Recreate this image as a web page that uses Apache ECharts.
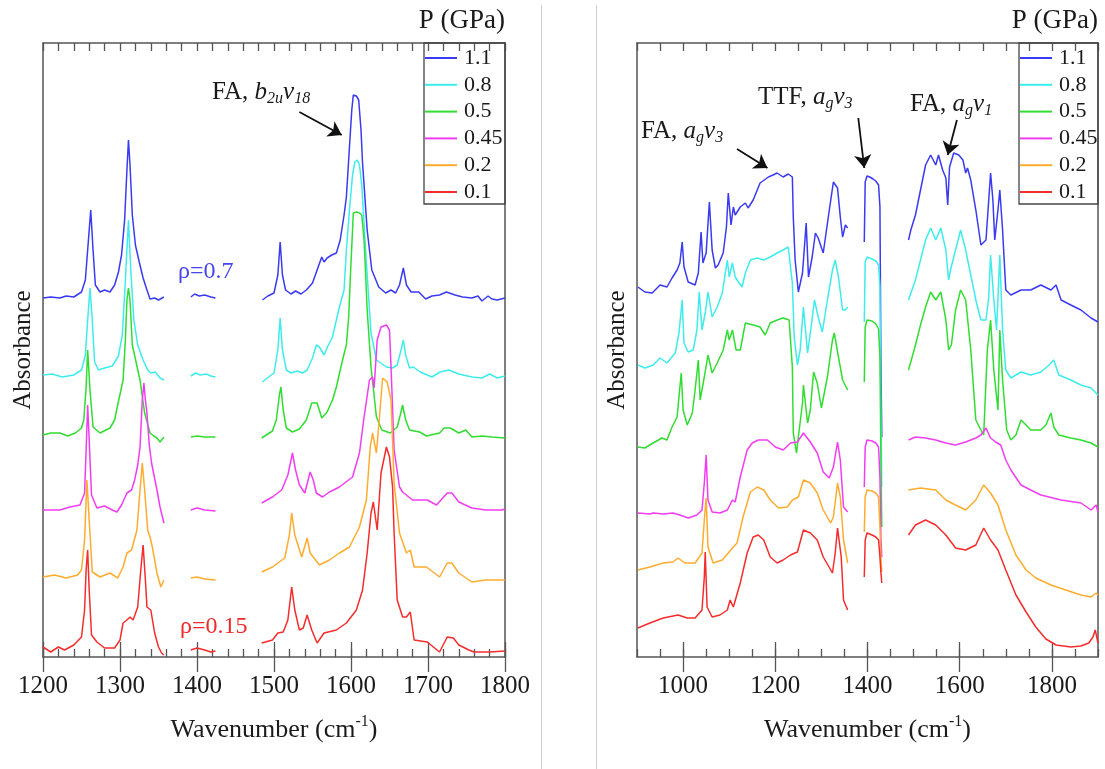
<!DOCTYPE html>
<html><head><meta charset="utf-8">
<script src="https://cdn.jsdelivr.net/npm/echarts@6/dist/echarts.min.js"></script>
<style>html,body{margin:0;padding:0;background:#fff}#c{width:1105px;height:769px}</style>
</head><body><div id="c"></div>
<script>
// ---------- DATA (wavenumber cm-1, absorbance in arbitrary offset units; null = gap) ----------
const pressures = ['1.1', '0.8', '0.5', '0.45', '0.2', '0.1'];
const colors = ['#3a3af2', '#3eecec', '#30dd30', '#f23cf2', '#ffac2e', '#f52c2c'];

const leftTicks = [1200, 1300, 1400, 1500, 1600, 1700, 1800];
const rightTicks = [1000, 1200, 1400, 1600, 1800];

// Left panel (1200-1800)
const left_1_1 = [[1200,35.9],[1210,36.0],[1222,35.9],[1230,36.1],[1240,36.0],[1250,36.5],[1255,37.7],[1259,41.7],[1262,44.7],[1265,40.7],[1268,37.2],[1274,36.5],[1280,36.7],[1287,36.5],[1293,37.2],[1298,38.5],[1302,40.2],[1306,43.7],[1309,48.7],[1311,51.7],[1313,49.2],[1316,44.2],[1320,41.2],[1325,39.5],[1330,37.9],[1335,36.7],[1339,35.8],[1345,35.9],[1350,35.7],[1357,36.0],null,
 [1392,36.0],[1397,36.3],[1403,36.1],[1410,36.2],[1418,36.0],[1424,35.9],null,
 [1485,35.7],[1492,36.1],[1500,36.4],[1505,38.2],[1508,41.5],[1511,38.2],[1515,36.7],[1522,36.3],[1528,36.6],[1535,36.3],[1542,36.7],[1550,37.4],[1556,38.7],[1562,40.0],[1565,39.5],[1569,39.9],[1575,40.2],[1581,40.4],[1586,41.7],[1591,44.2],[1594,46.0],[1598,51.0],[1601,54.7],[1603,56.2],[1607,56.1],[1610,55.7],[1613,52.7],[1615,49.4],[1621,42.7],[1627,38.7],[1636,37.0],[1645,36.4],[1652,36.7],[1658,36.4],[1663,37.2],[1668,38.9],[1672,37.2],[1678,36.5],[1688,36.5],[1697,35.8],[1705,36.1],[1715,36.2],[1724,36.5],[1735,36.2],[1745,36.0],[1757,35.9],[1765,36.1],[1770,35.6],[1778,36.1],[1783,35.8],[1790,35.7],[1800,35.9]];
const left_0_8 = [[1200,28.2],[1212,28.3],[1225,28.0],[1240,28.2],[1250,28.7],[1255,30.2],[1258,33.7],[1261,36.9],[1264,33.7],[1267,29.5],[1272,28.7],[1280,28.9],[1290,29.1],[1298,30.1],[1303,32.2],[1307,37.7],[1311,43.7],[1314,38.7],[1318,33.7],[1323,31.2],[1330,29.7],[1336,28.7],[1340,28.4],[1346,28.5],[1352,27.9],[1357,27.7],null,
 [1392,28.1],[1398,28.4],[1404,28.2],[1412,28.3],[1418,28.1],[1424,28.0],null,
 [1485,27.5],[1493,28.0],[1500,28.4],[1505,30.7],[1508,33.9],[1511,30.7],[1516,28.7],[1522,28.4],[1530,28.6],[1537,28.4],[1543,28.7],[1550,29.9],[1555,31.2],[1559,31.0],[1565,30.2],[1570,31.1],[1576,32.0],[1581,33.7],[1585,35.0],[1591,36.7],[1594,40.7],[1598,44.7],[1602,48.2],[1605,49.5],[1608,49.7],[1611,49.2],[1614,47.2],[1620,39.4],[1626,32.4],[1633,29.7],[1646,29.0],[1654,28.9],[1660,29.2],[1665,30.7],[1668,31.7],[1671,30.2],[1676,28.9],[1681,29.0],[1690,28.5],[1705,28.0],[1716,28.5],[1727,28.7],[1740,28.3],[1757,28.0],[1770,27.9],[1780,28.3],[1790,27.9],[1800,28.1]];
const left_0_5 = [[1200,22.2],[1210,22.4],[1222,22.4],[1232,22.1],[1242,22.4],[1250,22.9],[1253,23.7],[1256,27.0],[1258,30.7],[1261,26.7],[1265,23.0],[1274,22.4],[1287,22.9],[1293,23.7],[1297,25.2],[1304,27.7],[1307,31.7],[1309,35.7],[1311,36.9],[1313,35.7],[1316,31.2],[1326,27.7],[1332,24.4],[1339,22.4],[1344,22.1],[1348,21.9],[1352,21.5],[1357,22.0],null,
 [1392,22.0],[1400,22.1],[1410,22.0],[1424,22.0],null,
 [1484,21.9],[1492,22.3],[1498,22.6],[1503,23.7],[1507,26.2],[1509,27.0],[1512,24.7],[1516,22.9],[1524,22.5],[1533,22.8],[1542,23.7],[1549,25.4],[1556,25.4],[1562,23.9],[1569,24.5],[1576,25.7],[1581,27.0],[1589,29.7],[1594,31.2],[1597,34.0],[1599,37.7],[1603,44.4],[1607,44.5],[1611,44.4],[1614,44.2],[1617,41.7],[1621,34.7],[1626,29.0],[1633,24.0],[1640,22.7],[1651,22.4],[1660,23.0],[1664,24.2],[1667,25.2],[1671,23.7],[1676,22.7],[1689,22.5],[1698,22.1],[1715,22.4],[1721,22.9],[1729,22.9],[1740,22.4],[1749,22.7],[1757,22.0],[1770,22.1],[1783,22.0],[1800,21.9]];
const left_0_45 = [[1200,14.7],[1222,14.7],[1235,15.0],[1248,15.2],[1254,16.4],[1256,20.7],[1258,25.2],[1260,21.7],[1263,16.2],[1270,14.9],[1280,15.1],[1290,14.7],[1296,14.5],[1302,15.2],[1309,16.4],[1315,16.7],[1319,17.7],[1323,19.2],[1326,21.0],[1329,25.7],[1331,27.4],[1333,25.7],[1335,24.4],[1338,21.2],[1341,19.4],[1348,16.7],[1352,15.0],[1357,13.4],null,
 [1392,14.7],[1400,14.9],[1410,14.7],[1424,14.6],null,
 [1484,15.4],[1498,16.0],[1510,16.7],[1518,18.2],[1524,20.4],[1528,18.7],[1533,17.2],[1540,16.4],[1547,18.5],[1551,17.7],[1555,16.4],[1563,16.0],[1572,16.5],[1585,17.0],[1602,18.0],[1611,20.4],[1617,24.0],[1624,27.7],[1628,28.0],[1630,26.9],[1634,31.7],[1639,33.0],[1646,33.2],[1650,32.7],[1652,29.0],[1656,20.7],[1663,17.0],[1667,16.5],[1680,15.7],[1699,15.7],[1711,15.2],[1725,16.4],[1731,16.4],[1740,15.5],[1757,14.9],[1775,14.7],[1796,14.7],[1800,14.8]];
const left_0_2 = [[1200,8.0],[1215,8.2],[1230,7.9],[1245,8.2],[1250,8.7],[1254,11.7],[1257,17.7],[1260,13.7],[1264,8.5],[1274,8.0],[1287,8.4],[1297,7.9],[1304,9.0],[1309,10.4],[1315,10.7],[1322,12.7],[1326,16.7],[1329,19.4],[1332,16.7],[1336,12.7],[1339,12.0],[1342,11.0],[1348,8.4],[1353,7.0],[1357,7.7],null,
 [1392,7.9],[1400,8.0],[1410,7.8],[1424,7.7],null,
 [1484,8.5],[1498,9.0],[1514,9.9],[1520,12.2],[1523,14.4],[1527,12.2],[1536,10.0],[1543,11.9],[1547,10.4],[1559,9.2],[1572,9.7],[1585,10.4],[1598,11.0],[1611,13.0],[1620,15.7],[1625,21.0],[1628,22.4],[1633,20.4],[1637,24.0],[1641,27.9],[1647,27.5],[1652,25.7],[1656,17.4],[1663,12.4],[1672,10.4],[1677,10.7],[1682,9.0],[1698,9.0],[1715,8.0],[1725,9.4],[1731,9.4],[1740,8.4],[1757,7.5],[1775,7.7],[1800,7.7]];
const left_0_1 = [[1200,1.0],[1210,0.5],[1220,1.0],[1228,0.7],[1240,1.2],[1250,2.0],[1254,4.7],[1256,8.7],[1258,10.7],[1260,6.7],[1263,2.2],[1270,1.5],[1280,0.9],[1293,0.9],[1300,1.7],[1304,3.4],[1309,3.7],[1313,4.0],[1317,3.7],[1323,5.0],[1327,8.7],[1330,11.2],[1333,7.7],[1335,5.0],[1340,4.7],[1345,2.4],[1350,1.0],[1354,0.4],[1357,0.2],null,
 [1392,0.7],[1400,0.9],[1410,0.7],[1418,0.5],[1424,0.6],null,
 [1484,1.4],[1498,1.7],[1505,2.4],[1512,2.5],[1518,3.7],[1523,7.0],[1527,4.7],[1533,2.7],[1538,2.9],[1543,4.2],[1549,2.7],[1556,1.4],[1565,2.4],[1581,2.7],[1594,3.4],[1607,4.7],[1615,6.7],[1621,10.4],[1626,14.4],[1629,15.5],[1634,12.7],[1639,18.4],[1646,21.0],[1650,20.0],[1654,17.0],[1656,12.4],[1660,5.7],[1667,4.0],[1672,4.0],[1677,4.5],[1682,1.7],[1699,1.5],[1715,0.5],[1725,2.0],[1733,1.9],[1740,1.2],[1753,0.7],[1760,0.5],[1780,0.5],[1800,0.6]];

// Right panel (900-1900)
const right_1_1 = [[902,37.0],[917,36.5],[933,36.4],[950,37.2],[965,37.0],[976,37.9],[987,38.7],[993,39.4],[998,41.5],[1002,39.0],[1011,37.5],[1026,37.2],[1033,38.4],[1039,42.5],[1043,39.4],[1050,40.4],[1057,45.5],[1063,40.7],[1070,38.9],[1076,39.2],[1087,40.4],[1094,43.0],[1098,46.4],[1104,43.2],[1109,45.0],[1113,44.2],[1124,45.0],[1135,45.4],[1141,44.9],[1152,45.7],[1167,47.4],[1176,47.7],[1185,48.0],[1195,48.2],[1204,48.4],[1217,48.0],[1228,48.3],[1237,48.0],[1239,44.0],[1243,39.7],[1250,36.5],[1259,38.4],[1267,43.4],[1272,38.0],[1280,40.0],[1287,42.4],[1293,41.9],[1304,40.4],[1315,44.0],[1326,47.5],[1335,46.9],[1341,44.0],[1346,42.0],[1352,43.2],[1357,42.9],null,
 [1393,41.5],[1395,47.5],[1399,48.1],[1405,48.0],[1412,47.8],[1418,47.6],[1424,47.2],[1427,45.0],[1429,30.0],[1431,22.0],null,
 [1489,41.7],[1494,42.7],[1504,44.2],[1515,46.7],[1526,49.2],[1537,50.2],[1548,49.2],[1554,50.2],[1563,48.7],[1570,47.9],[1574,45.2],[1578,49.0],[1587,50.4],[1598,50.2],[1607,49.7],[1613,48.4],[1617,48.9],[1624,47.7],[1635,44.7],[1646,41.2],[1657,41.7],[1663,45.7],[1667,48.4],[1672,45.7],[1676,41.7],[1683,44.7],[1687,46.7],[1693,42.7],[1700,36.7],[1711,36.2],[1733,36.7],[1754,36.7],[1776,37.2],[1798,36.7],[1809,37.2],[1820,35.7],[1841,35.2],[1863,34.7],[1885,33.9],[1900,33.5]];
const right_0_8 = [[902,29.2],[917,28.9],[935,29.2],[950,29.9],[965,29.4],[983,30.4],[991,32.4],[998,35.7],[1002,31.4],[1011,30.5],[1022,30.7],[1030,32.7],[1035,36.5],[1041,32.7],[1048,34.4],[1054,36.5],[1063,34.0],[1074,35.0],[1085,36.4],[1096,39.7],[1100,38.0],[1107,39.4],[1113,38.0],[1120,37.5],[1128,37.0],[1135,38.4],[1146,39.7],[1161,39.9],[1175,39.7],[1189,40.0],[1204,40.4],[1217,40.7],[1228,41.0],[1237,37.4],[1241,32.0],[1248,29.2],[1254,30.7],[1261,35.0],[1270,30.4],[1276,32.4],[1285,35.7],[1293,34.0],[1302,32.5],[1313,35.7],[1324,38.7],[1330,39.7],[1337,38.0],[1346,34.7],[1352,34.7],[1357,35.0],null,
 [1393,33.5],[1395,39.5],[1399,40.0],[1410,39.8],[1418,39.6],[1424,39.2],[1427,37.0],[1429,25.0],[1431,17.0],null,
 [1489,35.7],[1504,37.7],[1526,41.7],[1537,42.9],[1548,41.7],[1559,42.9],[1570,40.7],[1576,37.7],[1580,38.7],[1591,40.7],[1602,42.7],[1613,40.7],[1624,38.2],[1635,35.7],[1646,33.7],[1657,33.7],[1663,36.0],[1667,40.2],[1674,35.7],[1680,32.7],[1687,40.2],[1693,32.7],[1700,28.7],[1711,27.9],[1733,28.5],[1754,28.2],[1776,28.5],[1794,29.2],[1804,29.7],[1815,28.2],[1841,27.7],[1863,27.2],[1885,26.9],[1900,26.2]];
const right_0_5 = [[902,21.0],[917,20.9],[935,21.4],[954,21.9],[965,21.7],[976,23.0],[987,24.0],[991,26.0],[996,28.4],[1000,24.7],[1009,23.2],[1020,24.4],[1026,26.7],[1033,29.7],[1037,25.7],[1046,28.0],[1054,30.2],[1063,28.4],[1074,29.4],[1087,30.7],[1096,32.7],[1100,31.7],[1107,32.7],[1115,30.7],[1124,30.7],[1135,33.4],[1152,33.2],[1167,33.0],[1178,32.2],[1189,33.4],[1204,33.7],[1217,33.9],[1230,33.7],[1237,29.0],[1239,22.4],[1246,20.4],[1250,22.0],[1259,25.4],[1261,27.2],[1270,23.4],[1276,24.7],[1283,28.5],[1291,27.4],[1300,24.9],[1313,28.0],[1324,31.7],[1328,32.4],[1337,30.0],[1346,27.7],[1357,26.7],null,
 [1393,27.5],[1395,33.0],[1399,33.7],[1410,33.6],[1418,33.3],[1424,32.8],[1427,30.0],[1429,20.0],[1431,13.0],null,
 [1489,28.7],[1504,31.2],[1515,33.2],[1526,35.0],[1537,36.5],[1548,35.7],[1559,36.5],[1570,33.7],[1576,30.7],[1582,31.2],[1591,34.7],[1602,36.7],[1613,35.7],[1624,30.7],[1635,23.7],[1646,22.7],[1652,22.2],[1660,30.7],[1667,33.7],[1674,28.7],[1683,24.7],[1687,32.7],[1693,27.7],[1702,22.7],[1711,21.7],[1722,22.2],[1733,23.7],[1744,23.2],[1754,22.7],[1776,22.7],[1787,23.2],[1798,24.4],[1804,23.0],[1815,22.2],[1841,21.9],[1863,21.7],[1885,21.4],[1900,21.0]];
const right_0_45 = [[902,14.4],[928,14.3],[935,14.4],[957,14.3],[978,14.4],[993,14.2],[1011,13.9],[1030,14.2],[1041,14.7],[1046,17.4],[1050,20.2],[1054,15.7],[1063,14.5],[1080,14.4],[1096,14.7],[1107,15.7],[1113,15.5],[1124,18.0],[1139,20.7],[1150,21.4],[1163,21.7],[1183,21.7],[1200,21.0],[1217,20.7],[1233,21.4],[1248,21.5],[1261,22.4],[1276,21.5],[1291,20.4],[1304,18.5],[1317,17.9],[1326,19.0],[1335,21.5],[1341,19.7],[1348,15.0],[1357,14.5],null,
 [1393,17.0],[1395,21.0],[1399,21.7],[1410,21.6],[1418,21.4],[1424,21.0],[1427,18.0],[1429,12.0],[1431,10.0],null,
 [1489,21.7],[1504,22.0],[1526,21.9],[1548,21.7],[1570,21.4],[1591,21.2],[1613,21.5],[1635,21.9],[1646,22.2],[1657,22.9],[1667,21.9],[1678,21.5],[1689,21.2],[1700,19.7],[1711,18.7],[1733,17.2],[1754,16.7],[1776,16.2],[1820,15.7],[1863,15.4],[1885,14.7],[1896,15.2],[1900,14.5]];
const right_0_2 = [[902,8.7],[928,9.0],[957,9.4],[978,9.5],[989,9.9],[1004,9.4],[1026,9.4],[1041,10.4],[1046,13.7],[1050,15.9],[1054,11.0],[1065,9.4],[1085,9.7],[1098,10.4],[1107,10.9],[1117,11.4],[1130,14.0],[1146,16.5],[1161,17.0],[1175,16.7],[1189,15.7],[1207,14.9],[1226,15.0],[1237,15.7],[1250,16.0],[1261,17.7],[1276,17.4],[1291,16.4],[1304,14.7],[1320,13.4],[1326,14.0],[1335,17.4],[1341,16.0],[1348,11.7],[1357,9.4],null,
 [1393,12.5],[1395,16.0],[1399,16.7],[1410,16.6],[1418,16.4],[1424,16.0],[1427,13.0],[1429,10.0],[1431,8.5],null,
 [1489,16.7],[1515,16.9],[1548,16.7],[1570,15.7],[1591,15.2],[1613,14.7],[1635,15.7],[1652,17.2],[1667,16.4],[1683,15.2],[1700,12.7],[1722,10.2],[1744,8.7],[1765,7.9],[1798,7.2],[1830,6.7],[1863,6.2],[1885,6.0],[1896,6.4],[1900,6.2]];
const right_0_1 = [[902,2.9],[928,3.4],[957,3.9],[989,4.2],[1009,3.9],[1026,3.9],[1041,4.7],[1046,8.0],[1048,10.5],[1052,5.0],[1063,4.0],[1080,4.2],[1096,4.7],[1102,5.7],[1109,5.0],[1124,7.4],[1139,10.4],[1152,12.0],[1163,12.2],[1175,11.7],[1189,10.0],[1204,9.4],[1217,9.7],[1233,10.2],[1248,10.5],[1261,12.7],[1276,12.4],[1291,11.7],[1304,10.0],[1324,8.4],[1330,10.4],[1335,12.9],[1343,10.0],[1348,5.7],[1357,4.7],null,
 [1393,8.0],[1395,11.7],[1399,12.4],[1410,12.2],[1418,12.0],[1424,11.7],[1427,10.0],[1429,8.5],[1431,7.4],null,
 [1489,12.2],[1504,13.2],[1526,13.7],[1548,13.2],[1570,12.2],[1591,10.9],[1613,10.7],[1635,11.2],[1652,12.9],[1667,11.7],[1683,10.7],[1700,8.7],[1722,6.2],[1744,4.5],[1765,3.0],[1787,1.8],[1809,1.2],[1841,1.0],[1863,1.1],[1880,1.4],[1889,2.0],[1894,2.7],[1900,1.4]];

// Annotation arrows (data coordinates: [from], [to])
const arrowsLeft = [[[1533, 54.5], [1588, 52.2]]];
const arrowsRight = [[[1117, 50.8], [1183, 48.9]], [[1380, 53.9], [1393, 48.9]], [[1594, 53.7], [1574, 50.2]]];

// ---------- CHART ----------
const FONT = "'Liberation Serif','Times New Roman',serif";
const INK = '#1a1a1a';
const AX = '#555';
const leftSets = [left_1_1, left_0_8, left_0_5, left_0_45, left_0_2, left_0_1];
const rightSets = [right_1_1, right_0_8, right_0_5, right_0_45, right_0_2, right_0_1];
const prep = arr => arr.map(p => p === null ? ['-', '-'] : p);

function mkSeries(sets, xi, yi, arrows) {
  return sets.map((d, i) => {
    const s = {
      name: pressures[i], type: 'line', xAxisIndex: xi, yAxisIndex: yi,
      data: prep(d), symbol: 'none', showSymbol: false, connectNulls: false,
      lineStyle: { color: colors[i], width: 1.5 }, itemStyle: { color: colors[i] },
      emphasis: { disabled: true }, animation: false, z: 3
    };
    if (i === 0 && arrows) {
      s.markLine = {
        silent: true, animation: false, symbol: ['none', 'arrow'], symbolSize: 13,
        lineStyle: { color: '#111', width: 1.8, type: 'solid' }, label: { show: false },
        data: arrows.map(a => [{ coord: a[0] }, { coord: a[1] }])
      };
    }
    return s;
  });
}

const axisNameRich = {
  a: { fontFamily: FONT, fontSize: 26, color: INK, lineHeight: 32, verticalAlign: 'middle' },
  b: { fontFamily: FONT, fontSize: 16, color: INK, lineHeight: 16, verticalAlign: 'top' }
};
function xMain(grid, pos, min, max, interval, labels, withName) {
  return {
    gridIndex: grid, type: 'value', position: pos, min, max, interval,
    axisLine: { show: true, onZero: false, lineStyle: { color: AX, width: 1.5 } },
    axisTick: { show: true, inside: true, length: 8, lineStyle: { color: AX, width: 1.3 } },
    minorTick: { show: false },
    splitLine: { show: false },
    axisLabel: labels ? {
      show: true, fontFamily: FONT, fontSize: 25, color: INK, margin: 17,
      formatter: v => labels.indexOf(v) >= 0 ? String(v) : ''
    } : { show: false },
    name: withName ? '{a|Wavenumber (cm}{b|-1}{a|)}' : '',
    nameLocation: 'middle', nameGap: 57,
    nameTextStyle: { fontFamily: FONT, fontSize: 26, color: INK, rich: axisNameRich }
  };
}
function xLong(grid, pos, min, max, interval, vals) {
  return {
    gridIndex: grid, type: 'value', position: pos, min, max, interval,
    axisLine: { show: false },
    axisTick: { show: true, inside: true, length: 15, customValues: vals, lineStyle: { color: AX, width: 1.3 } },
    axisLabel: { show: false }, splitLine: { show: false }
  };
}
function yAx(grid, pos, withName) {
  return {
    gridIndex: grid, type: 'value', position: pos, min: 0, max: 61.4,
    axisLine: { show: true, onZero: false, lineStyle: { color: AX, width: 1.5 } },
    axisTick: { show: false }, axisLabel: { show: false }, splitLine: { show: false },
    name: withName ? 'Absorbance' : '', nameLocation: 'middle', nameGap: 7,
    nameTextStyle: { fontFamily: FONT, fontSize: 25, color: INK }
  };
}
function legendAt(left) {
  return {
    data: pressures, orient: 'vertical', left: left, top: 47, padding: 0,
    icon: 'rect', itemWidth: 32, itemHeight: 2, itemGap: 4.8, selectedMode: false,
    textStyle: { fontFamily: FONT, fontSize: 22, color: INK, lineHeight: 20, padding: [0, 0, 0, 2] }
  };
}
const annRich = {
  n: { fontFamily: FONT, fontSize: 25, fill: INK, lineHeight: 30, verticalAlign: 'middle' },
  i: { fontFamily: FONT, fontSize: 25, fill: INK, fontStyle: 'italic', lineHeight: 30, verticalAlign: 'middle' },
  s: { fontFamily: FONT, fontSize: 16, fill: INK, fontStyle: 'italic', lineHeight: 16, verticalAlign: 'bottom' }
};
function ann(x, y, text) {
  return { type: 'text', x, y, z: 10, style: { text, rich: annRich, align: 'left', verticalAlign: 'middle', font: '25px ' + FONT, fill: INK } };
}
function plain(x, y, text, size, color, align) {
  return { type: 'text', x, y, z: 10, style: { text, fontFamily: FONT, fontSize: size, fill: color, align: align, verticalAlign: 'middle' } };
}

const option = {
  animation: false,
  backgroundColor: '#fff',
  grid: [
    { left: 43, top: 43, width: 462, height: 614, show: false },
    { left: 637, top: 43, width: 461, height: 614, show: false }
  ],
  xAxis: [
    xMain(0, 'bottom', 1200, 1800, 20, leftTicks, true),
    xMain(0, 'top', 1200, 1800, 20, null, false),
    xLong(0, 'bottom', 1200, 1800, 100, leftTicks),
    xLong(0, 'top', 1200, 1800, 100, leftTicks),
    xMain(1, 'bottom', 900, 1900, 50, rightTicks, true),
    xMain(1, 'top', 900, 1900, 50, null, false),
    xLong(1, 'bottom', 900, 1900, 100, rightTicks),
    xLong(1, 'top', 900, 1900, 100, rightTicks)
  ],
  yAxis: [yAx(0, 'left', true), yAx(0, 'right', false), yAx(1, 'left', true), yAx(1, 'right', false)],
  legend: [legendAt(425), legendAt(1020)],
  series: [].concat(mkSeries(leftSets, 0, 0, arrowsLeft), mkSeries(rightSets, 4, 2, arrowsRight)),
  graphic: [
    { type: 'line', shape: { x1: 541.5, y1: 5, x2: 541.5, y2: 769 }, style: { stroke: '#cfcfcf', lineWidth: 1 } },
    { type: 'line', shape: { x1: 596.5, y1: 5, x2: 596.5, y2: 769 }, style: { stroke: '#cfcfcf', lineWidth: 1 } },
    { type: 'rect', shape: { x: 424, y: 43, width: 81, height: 161 }, style: { fill: 'none', stroke: '#444', lineWidth: 1.3 }, z: 5 },
    { type: 'rect', shape: { x: 1019, y: 43, width: 79, height: 161 }, style: { fill: 'none', stroke: '#444', lineWidth: 1.3 }, z: 5 },
    plain(505, 21, 'P (GPa)', 27, INK, 'right'),
    plain(1098, 21, 'P (GPa)', 27, INK, 'right'),
    plain(178, 272, 'ρ=0.7', 24, '#4646ee', 'left'),
    plain(180, 627, 'ρ=0.15', 24, '#f02a2a', 'left'),
    ann(212, 92, '{n|FA, }{i|b}{s|2u}{i|v}{s|18}'),
    ann(641, 131, '{n|FA, }{i|a}{s|g}{i|v}{s|3}'),
    ann(758, 97, '{n|TTF, }{i|a}{s|g}{i|v}{s|3}'),
    ann(910, 104, '{n|FA, }{i|a}{s|g}{i|v}{s|1}')
  ]
};
const chart = echarts.init(document.getElementById('c'), null, { renderer: 'canvas' });
chart.setOption(option);
</script>
</body></html>
